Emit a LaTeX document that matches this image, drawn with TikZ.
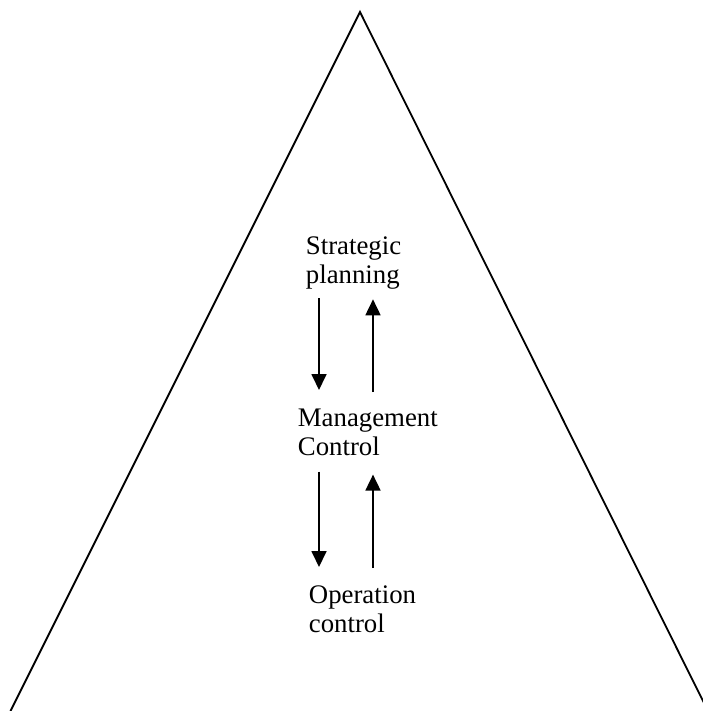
\documentclass[tikz,border=0pt]{standalone}
\usepackage{fontspec}
\setmainfont{Liberation Serif}
\usetikzlibrary{arrows.meta}
\begin{document}
\begin{tikzpicture}[x=1pt,y=-1pt,line width=1.8pt]
% Styles
\tikzset{level text/.style={anchor=north west,align=left,inner sep=0pt,
  font=\fontsize{26.8}{29}\selectfont},
  flow arrow/.style={-{Triangle[length=16pt,width=15pt]}}}
\useasboundingbox (0,0) rectangle (702,711);

% the pyramid
\coordinate (apex) at (360,12);
\coordinate (base left) at (10.5,711);
\coordinate (base right) at (704,703);
\draw (base left) -- (apex) -- (base right);

% the three levels
\node[level text] (strat) at (305,236) {Strategic\\planning};
\node[level text] (mgmt) at (297,408) {Management\\Control};
\node[level text] (oper) at (308,585) {Operation\\control};

% arrow columns
\coordinate (down) at (319,0);
\coordinate (up) at (373,0);

%down and up arrows
\draw[flow arrow,shorten <=8pt,shorten >=18pt] (strat.south -| down) -- (mgmt.north -| down);
\draw[flow arrow,shorten <=16pt,shorten >=9pt] (mgmt.north -| up) -- (strat.south -| up);
\draw[flow arrow,shorten <=15pt,shorten >=18pt] (mgmt.south -| down) -- (oper.north -| down);
\draw[flow arrow,shorten <=17pt,shorten >=18pt] (oper.north -| up) -- (mgmt.south -| up);

\end{tikzpicture}
\end{document}
